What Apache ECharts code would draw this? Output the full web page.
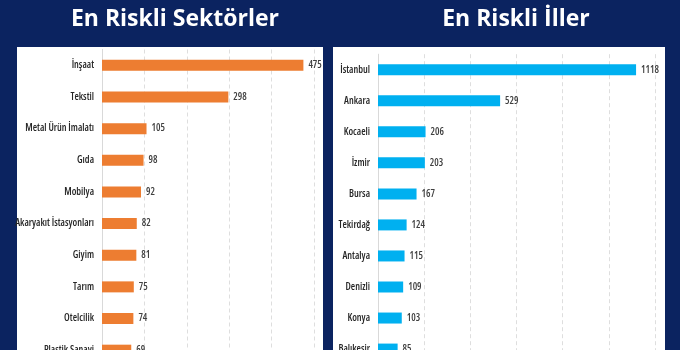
<!DOCTYPE html>
<html>
<head>
<meta charset="utf-8">
<script src="https://cdn.jsdelivr.net/npm/echarts@6/dist/echarts.min.js"></script>
<style>
html,body{margin:0;padding:0;background:#0b2360;overflow:hidden;}
#c{width:680px;height:400px;}
</style>
</head>
<body>
<div id="c"></div>
<script>
var sectorTitle = "En Riskli Sektörler";
var sectors = ["İnşaat","Tekstil","Metal Ürün İmalatı","Gıda","Mobilya","Akaryakıt İstasyonları","Giyim","Tarım","Otelcilik","Plastik Sanayi"];
var sectorValues = [475,298,105,98,92,82,81,75,74,69];
var cityTitle = "En Riskli İller";
var cities = ["İstanbul","Ankara","Kocaeli","İzmir","Bursa","Tekirdağ","Antalya","Denizli","Konya","Balıkesir"];
var cityValues = [1118,529,206,203,167,124,115,109,103,85];

var chart = echarts.init(document.getElementById('c'), null, {renderer:'canvas'});
var narrow = '"Open Sans",Roboto,sans-serif';
function catAxis(idx, data){
  return {type:'category', gridIndex:idx, data:data, inverse:true,
    axisLine:{show:true, lineStyle:{color:'#d9d9d9', width:1}},
    axisTick:{show:false},
    axisLabel:{color:'#262626', fontStyle:'condensed', fontWeight:600, fontFamily:narrow, fontSize:10, margin:8}};
}
function valAxis(idx, max, interval){
  return {type:'value', gridIndex:idx, min:0, max:max, interval:interval,
    axisLine:{show:false}, axisTick:{show:false}, axisLabel:{show:false},
    splitLine:{show:true, lineStyle:{color:'#dedede', type:[4,3], width:1}}};
}
function barSeries(idx, data, color){
  return {type:'bar', xAxisIndex:idx, yAxisIndex:idx, data:data, barWidth:11,
    itemStyle:{color:color}, silent:true,
    label:{show:true, position:'right', distance:5, color:'#404040', fontStyle:'condensed', fontWeight:600, fontFamily:narrow, fontSize:10}};
}
chart.setOption({
  backgroundColor:'#0b2360',
  animation:false,
  graphic:[
    {type:'rect', shape:{x:17, y:47, width:306, height:360}, style:{fill:'#ffffff'}, z:-10},
    {type:'rect', shape:{x:333, y:47, width:332, height:360}, style:{fill:'#ffffff'}, z:-10}
  ],
  title:[
    {text:sectorTitle, left:170, top:3, textAlign:'center',
      textStyle:{color:'#ffffff', fontFamily:'"Open Sans",sans-serif', fontWeight:'bold', fontSize:23}},
    {text:cityTitle, left:511, top:3, textAlign:'center',
      textStyle:{color:'#ffffff', fontFamily:'"Open Sans",sans-serif', fontWeight:'bold', fontSize:23}}
  ],
  grid:[
    {left:102, top:49.5, width:212, height:316.5},
    {left:378, top:54.2, width:277, height:310.4}
  ],
  xAxis:[valAxis(0,500,100), valAxis(1,1200,200)],
  yAxis:[catAxis(0,sectors), catAxis(1,cities)],
  series:[barSeries(0,sectorValues,'#ED7D31'), barSeries(1,cityValues,'#00B0F0')]
});
</script>
</body>
</html>
